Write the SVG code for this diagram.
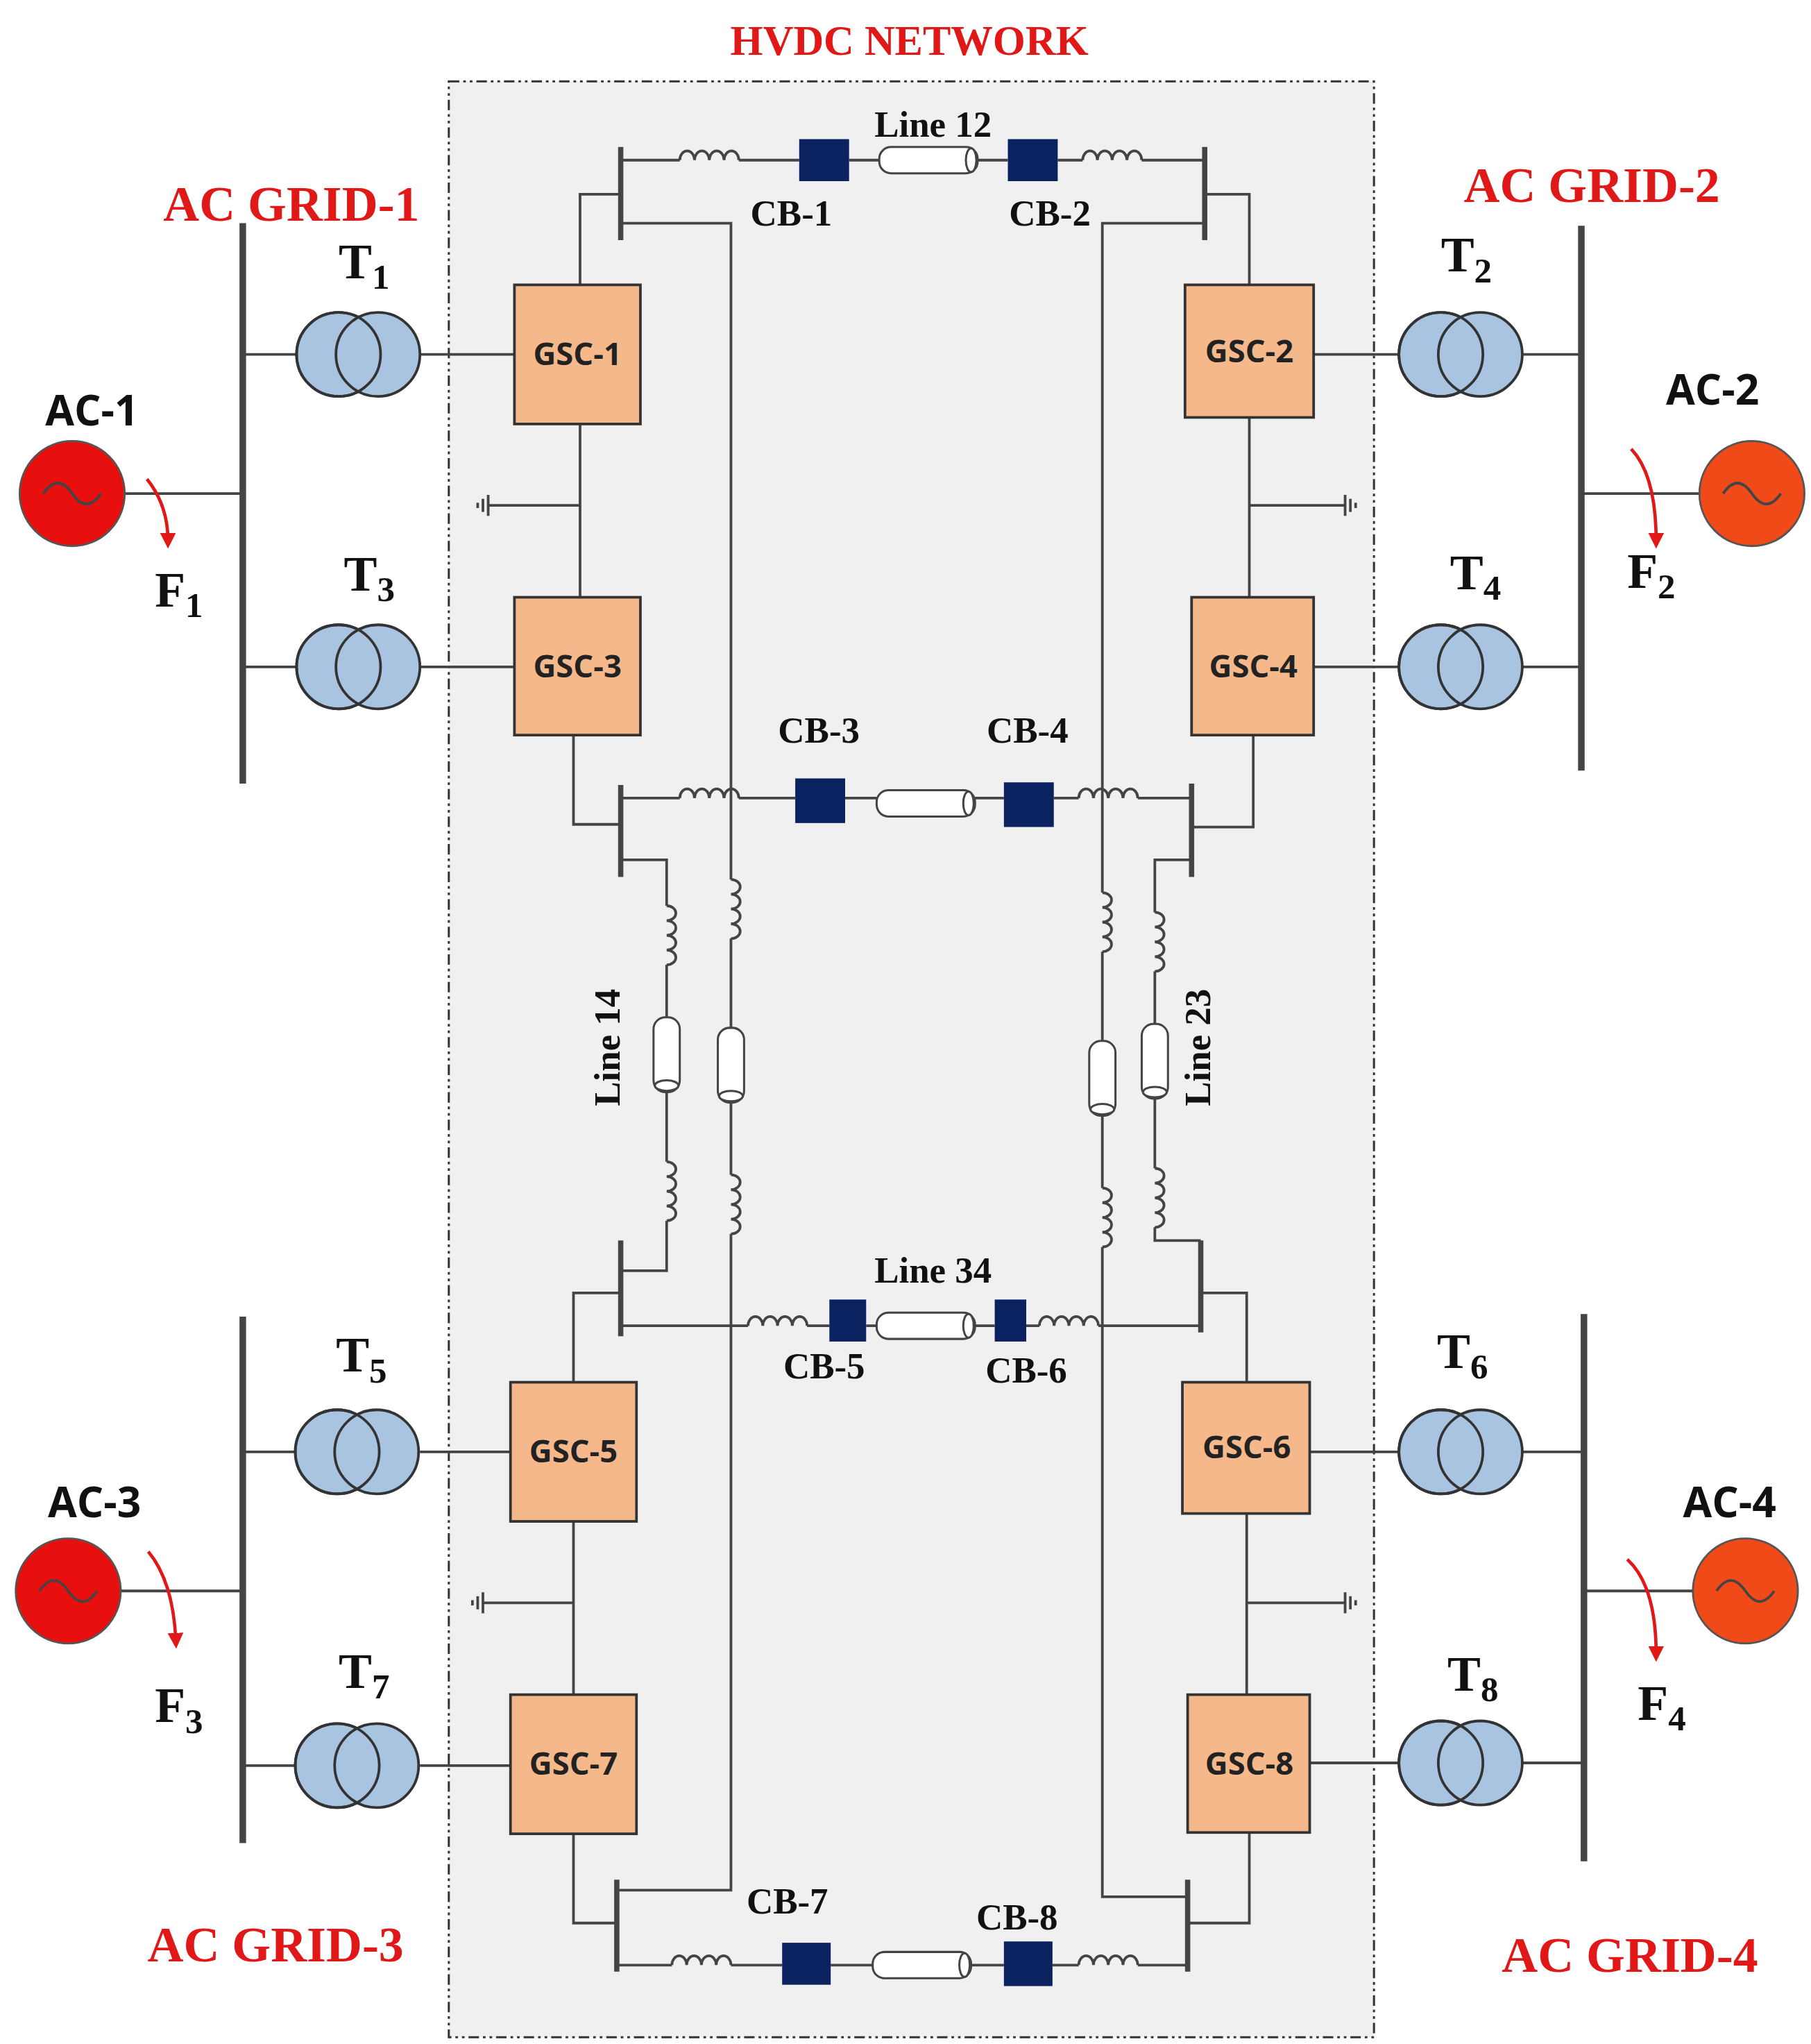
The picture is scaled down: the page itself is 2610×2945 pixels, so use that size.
<svg xmlns="http://www.w3.org/2000/svg" xmlns:xlink="http://www.w3.org/1999/xlink" width="2610" height="2945" viewBox="0 0 2610 2945">
<style>
.w{fill:none;stroke:#444;stroke-width:2}
.bar{stroke:#444;stroke-width:4}
.acbar{stroke:#444;stroke-width:5}
.gsc{fill:#f4b88a;stroke:#333;stroke-width:2}
.gt{font:bold 24px "Open Sans","DejaVu Sans",sans-serif;fill:#222;text-anchor:middle}
.cb{fill:#0b2260}
.lbl{font:bold 28px "Liberation Serif",serif;fill:#111;text-anchor:middle}
.red{font:bold 38px "Liberation Serif",serif;fill:#e01818;text-anchor:middle}
.tl{font:bold 38px "Liberation Serif",serif;fill:#111}
.ac{font:bold 32px "Open Sans","DejaVu Sans",sans-serif;fill:#111;text-anchor:middle}
.tr{fill:#a9c4e0;stroke:#333;stroke-width:2}
.cab{fill:#fff;stroke:#444;stroke-width:1.6}
.arr{fill:none;stroke:#e01818;stroke-width:2.5}
</style>
<defs>
<path id="ind" class="w" d="M0,0 a5.6,7 0 0 1 11.25,0 a5.6,7 0 0 1 11.25,0 a5.6,7 0 0 1 11.25,0 a5.6,7 0 0 1 11.25,0"/>
<g id="cabh"><rect class="cab" x="0" y="-10" width="75" height="20" rx="9"/><ellipse class="cab" cx="70" cy="0" rx="4" ry="9"/></g>
<g id="cabv"><rect class="cab" x="-10" y="0" width="20" height="57" rx="9"/><ellipse class="cab" cx="0" cy="52" rx="9" ry="4"/></g>
<g id="tx"><circle class="tr" cx="-15" cy="0" r="32"/><circle class="tr" cx="15" cy="0" r="32"/><circle cx="-15" cy="0" r="32" fill="none" stroke="#333" stroke-width="2"/></g>
<g id="gnd" class="w"><line x1="0" y1="-8" x2="0" y2="8"/><line x1="-4" y1="-5" x2="-4" y2="5"/><line x1="-8" y1="-2" x2="-8" y2="2"/></g>
<marker id="ah" markerWidth="12" markerHeight="12" refX="6" refY="6" orient="auto" markerUnits="userSpaceOnUse"><path d="M0,0 L12,6 L0,12 z" fill="#e01818"/></marker>
</defs>
<rect width="2610" height="2945" fill="#fff"/>
<g transform="scale(1.8913)">
<g id="hvdc">
<rect x="342" y="62" width="705" height="1490" fill="#f0f0f0" stroke="#333" stroke-width="1.6" stroke-dasharray="8,3,2,3,2,3"/>
<text class="red" x="693" y="42" style="font-size:32px">HVDC NETWORK</text>
</g>
<g id="connectors">
<path class="w" d="M95,376H185 M1205,376H1295 M92,1212H185 M1207,1212H1290
M185,270H226 M320,270H392 M185,508H226 M320,508H392 M185,1106H226 M320,1106H389 M185,1345H226 M320,1345H389
M1001,270H1066 M1160,270H1205 M1001,508H1066 M1160,508H1205 M998,1106H1066 M1160,1106H1207 M998,1343H1066 M1160,1343H1207"/>
<path class="w" d="M442,323V455 M442,385H372 M952,318V455 M952,385H1025 M437,1159V1291 M437,1221H368 M950,1153V1291 M950,1221H1025
M442,217V148H473 M952,217V148H918 M437,560V628H473 M955,560V630H908 M437,1053V985H473 M950,1053V985H915 M437,1397V1465H470 M952,1396V1465H905"/>
<path class="bar" d="M473,112V183 M918,112V183 M473,598V668 M908,597V668 M473,945V1018 M915,945V1015 M470,1432V1502 M905,1432V1502"/>
<path class="w" d="M473,122H518 M563,122H609 M647,122H670 M745,122H768 M806,122H825 M870,122H918"/>
<use href="#ind" x="518" y="122"/><use href="#ind" x="825" y="122"/>
<use href="#cabh" x="670" y="122"/>
<rect class="cb" x="609" y="106" width="38" height="32"/><rect class="cb" x="768" y="106" width="38" height="32"/>
<path class="w" d="M473,170H557V670 M557,715V785 M557,835V895 M557,940V1440H470 M918,170H840V680 M840,725V795 M840,850V905 M840,950V1445H905"/>
<use href="#ind" transform="translate(557,670) rotate(90)"/><use href="#ind" transform="translate(557,895) rotate(90)"/>
<use href="#cabv" x="557" y="783"/>
<use href="#ind" transform="translate(840,680) rotate(90)"/><use href="#ind" transform="translate(840,905) rotate(90)"/>
<use href="#cabv" x="840" y="793"/>
<path class="w" d="M473,608H518 M563,608H606 M644,608H668 M743,608H765 M803,608H822 M867,608H908"/>
<use href="#ind" x="518" y="608"/><use href="#ind" x="822" y="608"/>
<use href="#cabh" x="668" y="612"/>
<rect class="cb" x="606" y="593" width="38" height="34"/><rect class="cb" x="765" y="596" width="38" height="34"/>
<path class="w" d="M473,655H508V690 M508,735V775 M508,830V885 M508,930V968H473 M908,655H880V695 M880,740V780 M880,835V890 M880,935V945H915"/>
<use href="#ind" transform="translate(508,690) rotate(90)"/><use href="#ind" transform="translate(508,885) rotate(90)"/>
<use href="#cabv" x="508" y="775"/>
<use href="#ind" transform="translate(880,695) rotate(90)"/><use href="#ind" transform="translate(880,890) rotate(90)"/>
<use href="#cabv" x="880" y="780"/>
<path class="w" d="M473,1010H570 M615,1010H632 M660,1010H668 M743,1010H758 M782,1010H792 M837,1010H915"/>
<use href="#ind" x="570" y="1010"/><use href="#ind" x="792" y="1010"/>
<use href="#cabh" x="668" y="1010"/>
<rect class="cb" x="632" y="990" width="28" height="32"/><rect class="cb" x="758" y="990" width="24" height="32"/>
<path class="w" d="M470,1497H512 M557,1497H596 M633,1497H665 M740,1497H765 M802,1497H822 M867,1497H905"/>
<use href="#ind" x="512" y="1497"/><use href="#ind" x="822" y="1497"/>
<use href="#cabh" x="665" y="1497"/>
<rect class="cb" x="596" y="1480" width="37" height="32"/><rect class="cb" x="765" y="1479" width="37" height="34"/>
<use href="#gnd" x="372" y="385"/><use href="#gnd" transform="translate(1025,385) scale(-1,1)"/>
<use href="#gnd" x="368" y="1221"/><use href="#gnd" transform="translate(1025,1221) scale(-1,1)"/>
<path class="arr" d="M112,365 Q128,385 128,412" marker-end="url(#ah)"/>
<path class="arr" d="M1243,342 Q1262,362 1262,412" marker-end="url(#ah)"/>
<path class="arr" d="M113,1182 Q132,1205 134,1250" marker-end="url(#ah)"/>
<path class="arr" d="M1240,1188 Q1262,1208 1262,1260" marker-end="url(#ah)"/>
</g>
<g id="acbars">
<path class="acbar" d="M185,170V597 M1205,172V587 M185,1003V1404 M1207,1001V1418"/>
</g>
<g id="gsc1"><rect class="gsc" x="392" y="217" width="96" height="106"/><text class="gt" x="440" y="278">GSC-1</text></g>
<g id="gsc2"><rect class="gsc" x="903" y="217" width="98" height="101"/><text class="gt" x="952" y="276">GSC-2</text></g>
<g id="gsc3"><rect class="gsc" x="392" y="455" width="96" height="105"/><text class="gt" x="440" y="516">GSC-3</text></g>
<g id="gsc4"><rect class="gsc" x="908" y="455" width="93" height="105"/><text class="gt" x="955" y="516">GSC-4</text></g>
<g id="gsc5"><rect class="gsc" x="389" y="1053" width="96" height="106"/><text class="gt" x="437" y="1114">GSC-5</text></g>
<g id="gsc6"><rect class="gsc" x="901" y="1053" width="97" height="100"/><text class="gt" x="950" y="1111">GSC-6</text></g>
<g id="gsc7"><rect class="gsc" x="389" y="1291" width="96" height="106"/><text class="gt" x="437" y="1352">GSC-7</text></g>
<g id="gsc8"><rect class="gsc" x="905" y="1291" width="93" height="105"/><text class="gt" x="952" y="1352">GSC-8</text></g>
<g id="t1"><use href="#tx" x="273" y="270"/><text class="tl" x="258" y="212">T<tspan font-size="27" dy="8">1</tspan></text></g>
<g id="t3"><use href="#tx" x="273" y="508"/><text class="tl" x="262" y="450">T<tspan font-size="27" dy="8">3</tspan></text></g>
<g id="t5"><use href="#tx" x="272" y="1106"/><text class="tl" x="256" y="1045">T<tspan font-size="27" dy="8">5</tspan></text></g>
<g id="t7"><use href="#tx" x="272" y="1345"/><text class="tl" x="258" y="1286">T<tspan font-size="27" dy="8">7</tspan></text></g>
<g id="t2"><use href="#tx" x="1113" y="270"/><text class="tl" x="1098" y="207">T<tspan font-size="27" dy="8">2</tspan></text></g>
<g id="t4"><use href="#tx" x="1113" y="508"/><text class="tl" x="1105" y="449">T<tspan font-size="27" dy="8">4</tspan></text></g>
<g id="t6"><use href="#tx" x="1113" y="1106"/><text class="tl" x="1095" y="1042">T<tspan font-size="27" dy="8">6</tspan></text></g>
<g id="t8"><use href="#tx" x="1113" y="1343"/><text class="tl" x="1103" y="1288">T<tspan font-size="27" dy="8">8</tspan></text></g>
<g id="ac1"><circle cx="55" cy="376" r="40" fill="#e8100f" stroke="#555" stroke-width="1.5"/><path class="w" d="M33,376 q11,-16 22,0 q11,16 22,0" stroke="#7a0000"/><text class="ac" x="70" y="324">AC-1</text><text class="tl" x="118" y="462">F<tspan font-size="27" dy="8">1</tspan></text></g>
<g id="ac2"><circle cx="1335" cy="376" r="40" fill="#f04a18" stroke="#555" stroke-width="1.5"/><path class="w" d="M1313,376 q11,-16 22,0 q11,16 22,0" stroke="#7a0000"/><text class="ac" x="1305" y="308">AC-2</text><text class="tl" x="1240" y="448">F<tspan font-size="27" dy="8">2</tspan></text></g>
<g id="ac3"><circle cx="52" cy="1212" r="40" fill="#e8100f" stroke="#555" stroke-width="1.5"/><path class="w" d="M30,1212 q11,-16 22,0 q11,16 22,0" stroke="#7a0000"/><text class="ac" x="72" y="1156">AC-3</text><text class="tl" x="118" y="1312">F<tspan font-size="27" dy="8">3</tspan></text></g>
<g id="ac4"><circle cx="1330" cy="1212" r="40" fill="#f04a18" stroke="#555" stroke-width="1.5"/><path class="w" d="M1308,1212 q11,-16 22,0 q11,16 22,0" stroke="#7a0000"/><text class="ac" x="1318" y="1156">AC-4</text><text class="tl" x="1248" y="1310">F<tspan font-size="27" dy="8">4</tspan></text></g>
<g id="labels">
<text class="red" x="222" y="168">AC GRID-1</text>
<text class="red" x="1213" y="154">AC GRID-2</text>
<text class="red" x="210" y="1494">AC GRID-3</text>
<text class="red" x="1242" y="1502">AC GRID-4</text>
<text class="lbl" x="711" y="104">Line 12</text>
<text class="lbl" x="603" y="172">CB-1</text>
<text class="lbl" x="800" y="172">CB-2</text>
<text class="lbl" x="624" y="566">CB-3</text>
<text class="lbl" x="783" y="566">CB-4</text>
<text class="lbl" x="711" y="977">Line 34</text>
<text class="lbl" x="628" y="1050">CB-5</text>
<text class="lbl" x="782" y="1053">CB-6</text>
<text class="lbl" x="600" y="1458">CB-7</text>
<text class="lbl" x="775" y="1470">CB-8</text>
<text class="lbl" transform="translate(472,798) rotate(-90)">Line 14</text>
<text class="lbl" transform="translate(922,798) rotate(-90)">Line 23</text>
</g>
</g>
</svg>
